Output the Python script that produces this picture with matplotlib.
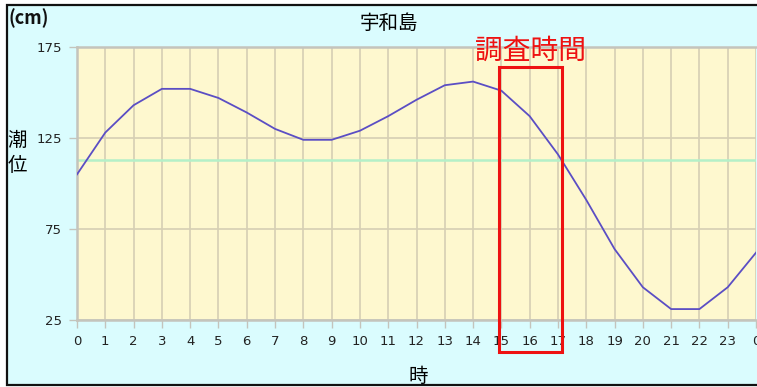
import matplotlib
matplotlib.use("Agg")
import matplotlib.pyplot as plt
from matplotlib.patches import Rectangle

plt.rcParams["font.family"] = ["Noto Sans CJK JP", "DejaVu Sans"]

# ── Data ──────────────────────────────────────────────────────────────────────
hours = list(range(25))
tide_cm = [105, 128, 143, 152, 152, 147, 139, 130, 124, 124, 129, 137,
           146, 154, 156, 151, 137, 116, 91, 64, 43, 31, 31, 43, 62]
mean_level = 113
x_labels = [str(h % 24) for h in hours]
y_ticks = [25, 75, 125, 175]
survey_span = (14.93, 17.13)   # 調査時間 box (hours)

# ── Figure ────────────────────────────────────────────────────────────────────
fig = plt.figure(figsize=(7.57, 3.87), dpi=100, facecolor="white")

# cyan panel with black frame (right edge cropped off)
panel = Rectangle((7 / 757, 2 / 387), 1.2, 380 / 387, transform=fig.transFigure,
                  facecolor="#dafcfe", edgecolor="#111111", linewidth=1.6, zorder=-5)
fig.patches.append(panel)

ax = fig.add_axes([77 / 757, 1 - 320 / 387, 679 / 757, 273 / 387])
ax.set_zorder(2)
ax.set_facecolor("#fef8cf")

ax.plot(hours, tide_cm, color="#5b4ec4", linewidth=1.3, zorder=3)
ax.axhline(mean_level, color="#b4f0c8", linewidth=1.8, zorder=2)

ax.set_xlim(0, 24)
ax.set_ylim(25, 175)
ax.set_xticks(hours)
ax.set_xticklabels(x_labels)
ax.set_yticks(y_ticks)

ax.grid(True, color="#d6cfb4", linewidth=1.2, zorder=1)
ax.set_axisbelow(True)
for side in ["left", "bottom", "top"]:
    ax.spines[side].set_color("#c4c4bc")
    ax.spines[side].set_linewidth(1.8)
ax.spines["right"].set_visible(False)
ax.tick_params(axis="both", length=6, width=1, color="#c4c4bc",
               labelsize=9.5, labelcolor="#222222", pad=5)
for lbl in ax.get_xticklabels() + ax.get_yticklabels():
    lbl.set_family("DejaVu Sans")

# titles and labels
fig.text(389 / 757, 1 - 23 / 387, "宇和島", ha="center", va="center", fontsize=14)
fig.text(8 / 757, 1 - 18 / 387, "(cm)", ha="left", va="center", fontsize=13,
         color="#111111", fontweight="bold")
fig.text(17 / 757, 1 - 153 / 387, "潮\n位", ha="center", va="center",
         fontsize=14, linespacing=1.3)
fig.text(418 / 757, 1 - 376 / 387, "時", ha="center", va="center", fontsize=14)

# survey-time box
x0, x1 = survey_span
box = Rectangle((x0, 7.4), x1 - x0, 164 - 7.4, fill=False, edgecolor="#ee1111",
                linewidth=2.2, clip_on=False, zorder=5)
ax.add_patch(box)
ax.text((x0 + x1) / 2, 173, "調査時間", ha="center", va="center",
        fontsize=20, color="#ee1111", zorder=6)

fig.savefig("out.png", dpi=100, facecolor=fig.get_facecolor())
